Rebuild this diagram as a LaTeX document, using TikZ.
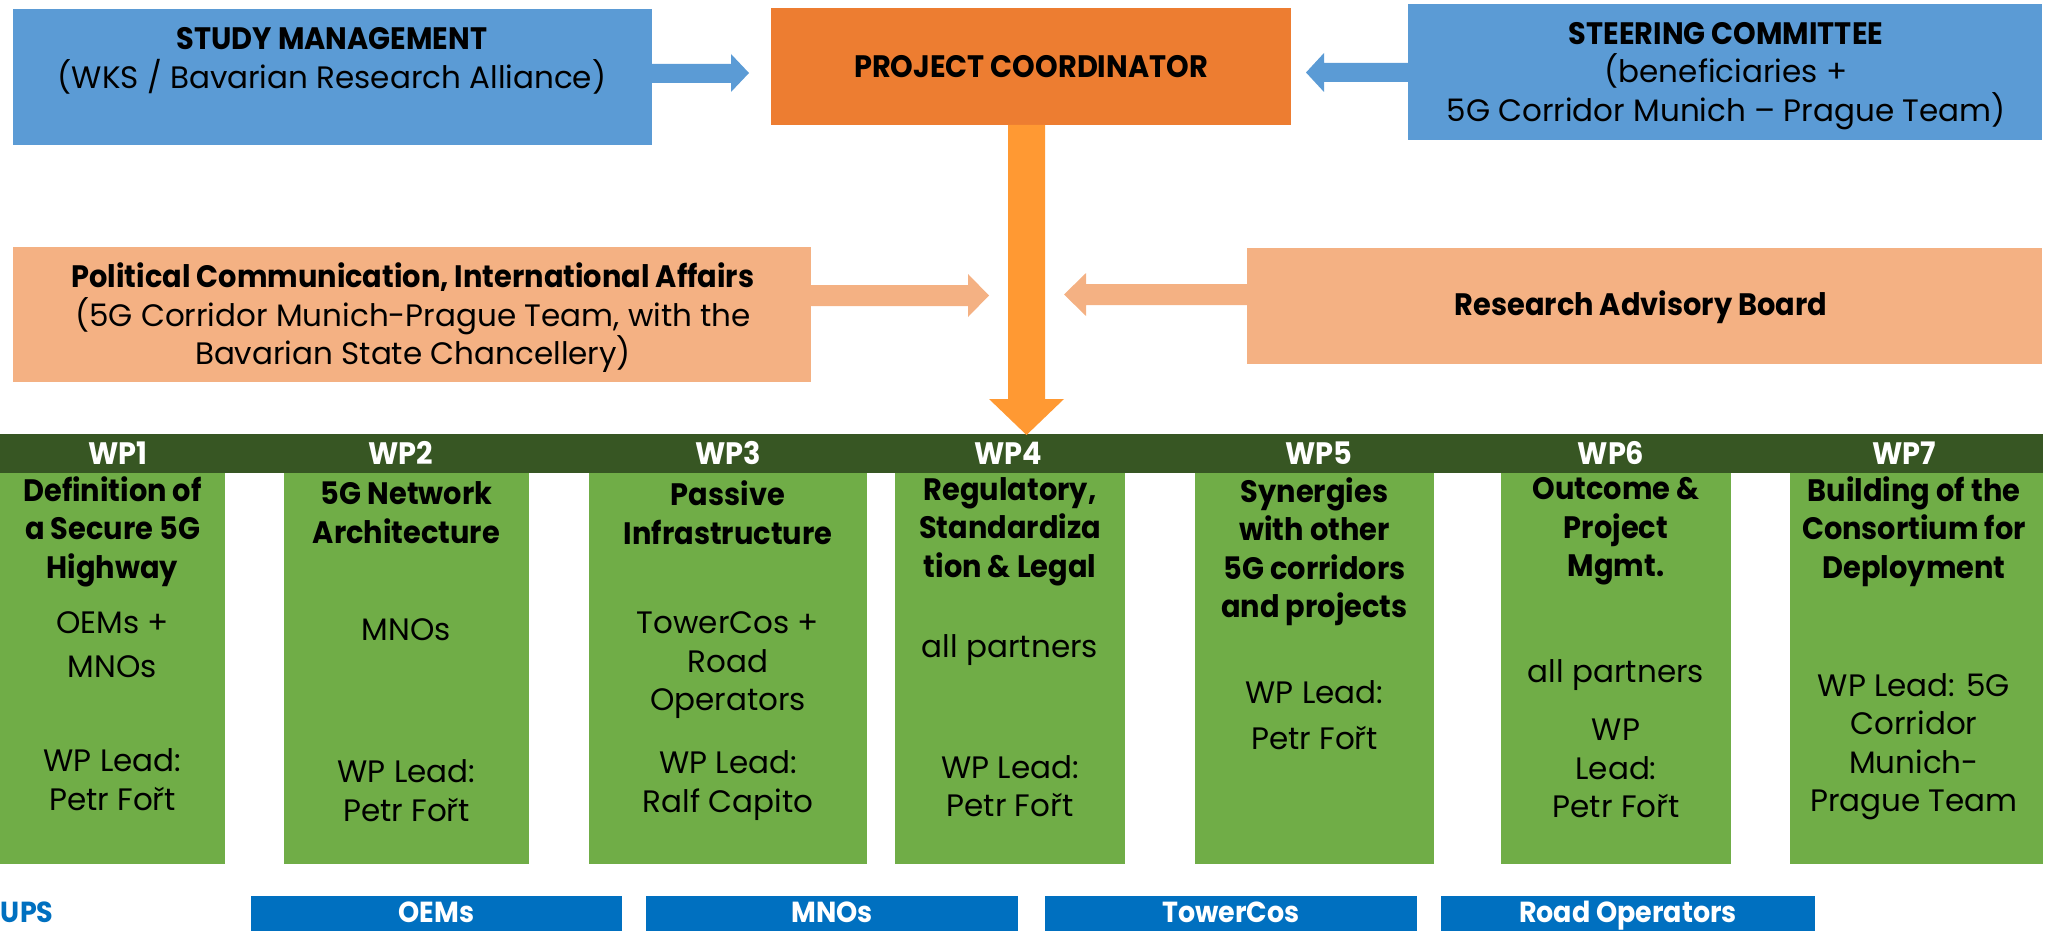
\documentclass[tikz,border=0pt]{standalone}
\usepackage{fontspec}
\setmainfont{Poppins}[BoldFeatures={FakeStretch=0.93}]
\definecolor{smblue}{HTML}{5B9BD5}
\definecolor{pcorange}{HTML}{ED7D31}
\definecolor{arrorange}{HTML}{FF9933}
\definecolor{salmon}{HTML}{F4B183}
\definecolor{darkgreen}{HTML}{375623}
\definecolor{wpgreen}{HTML}{70AD47}
\definecolor{deepblue}{HTML}{0070C0}
\begin{document}
\begin{tikzpicture}[x=1pt,y=-1pt,
  every node/.style={inner sep=0pt,outer sep=0pt},
  box/.style={rectangle,draw=none},
  txt/.style={font=\fontsize{31}{38.5}\selectfont,align=center,text=black},
  ttl/.style={txt,font=\fontsize{31}{38.5}\selectfont\bfseries},
  hdr/.style={font=\fontsize{31}{38.5}\selectfont\bfseries,text=white},
  bt/.style={font=\fontsize{29}{34}\selectfont\bfseries,text=white,anchor=base}]
\useasboundingbox (0,0) rectangle (2052,931);
% top boxes
\node[box,fill=smblue,minimum width=639pt,minimum height=136pt] (sm) at (332.5,77) {};
\node[box,fill=pcorange,minimum width=520pt,minimum height=117pt] (pc) at (1031,66.5) {};
\node[box,fill=smblue,minimum width=634pt,minimum height=136pt] (sc) at (1725,72) {};
\node[box,fill=salmon,minimum width=798pt,minimum height=135pt] (pol) at (412,314.5) {};
\node[box,fill=salmon,minimum width=795pt,minimum height=116pt] (rab) at (1644.5,306) {};
% WP bar and columns
\node[box,fill=darkgreen,minimum width=2043pt,minimum height=39pt] (bar) at (1021.5,453.5) {};
\node[box,fill=wpgreen,minimum width=225pt,minimum height=391pt] (wp1) at (112.5,668.5) {};
\node[box,fill=wpgreen,minimum width=245pt,minimum height=391pt] (wp2) at (406.5,668.5) {};
\node[box,fill=wpgreen,minimum width=278pt,minimum height=391pt] (wp3) at (728,668.5) {};
\node[box,fill=wpgreen,minimum width=230pt,minimum height=391pt] (wp4) at (1010,668.5) {};
\node[box,fill=wpgreen,minimum width=239pt,minimum height=391pt] (wp5) at (1314.5,668.5) {};
\node[box,fill=wpgreen,minimum width=230pt,minimum height=391pt] (wp6) at (1616,668.5) {};
\node[box,fill=wpgreen,minimum width=253pt,minimum height=391pt] (wp7) at (1916.5,668.5) {};
% bottom boxes
\node[box,fill=deepblue,minimum width=371pt,minimum height=35pt] (oem) at (436.5,913.5) {};
\node[box,fill=deepblue,minimum width=372pt,minimum height=35pt] (mno) at (832,913.5) {};
\node[box,fill=deepblue,minimum width=372pt,minimum height=35pt] (tow) at (1231,913.5) {};
\node[box,fill=deepblue,minimum width=374pt,minimum height=35pt] (road) at (1628,913.5) {};
% arrows
\fill[smblue] (sm.east |- 0,64) -- (731,64) -- (731,54) -- (749,73) -- (731,92) -- (731,83) -- (sm.east |- 0,83) -- cycle;
\fill[smblue] (sc.west |- 0,63) -- (1324,63) -- (1324,53) -- (1306,72.5) -- (1324,92) -- (1324,82) -- (sc.west |- 0,82) -- cycle;
\fill[salmon] (pol.east |- 0,285) -- (968,285) -- (968,274) -- (989,295.5) -- (968,317) -- (968,306) -- (pol.east |- 0,306) -- cycle;
\fill[salmon] (rab.west |- 0,284) -- (1086,284) -- (1086,273) -- (1064,294.5) -- (1086,316) -- (1086,305) -- (rab.west |- 0,305) -- cycle;
\fill[arrorange] (1008,0 |- pc.south) -- (1008,399) -- (989,399) -- (1026.5,435) -- (1064,399) -- (1045,399) -- (1045,0 |- pc.south) -- cycle;
% texts top
\node[txt] (smt) at (332,61) {\textbf{STUDY MANAGEMENT}\\(WKS / Bavarian Research Alliance)};
\node[txt] (pct) at (1031,67) {\textbf{PROJECT COORDINATOR}};
\node[txt] (sct) at (1726,76) {\textbf{STEERING COMMITTEE}\\(beneficiaries +\\5G Corridor Munich – Prague Team)};
\node[txt] (polt) at (413,318) {\textbf{Political Communication, International Affairs}\\(5G Corridor Munich-Prague Team, with the\\Bavarian State Chancellery)};
\node[txt] (rabt) at (1641,307) {\textbf{Research Advisory Board}};
% WP headers
\node[hdr] (h1) at (118,453) {WP1};
\node[hdr] (h2) at (401,453) {WP2};
\node[hdr] (h3) at (728,453) {WP3};
\node[hdr] (h4) at (1008,453) {WP4};
\node[hdr] (h5) at (1319,453) {WP5};
\node[hdr] (h6) at (1611,453) {WP6};
\node[hdr] (h7) at (1904,453) {WP7};
% WP column texts
\node[ttl] (t1) at (112.5,531.5) {Definition of\\a Secure 5G\\Highway};
\node[txt] (p1) at (112.5,644.5) {OEMs +\\[6pt]MNOs};
\node[txt] (l1) at (112.5,779.5) {WP Lead:\\Petr Fořt};
\node[ttl] (t2) at (406.5,512.5) {5G Network\\Architecture};
\node[txt] (p2) at (406.5,630) {MNOs};
\node[txt] (l2) at (406.5,790.5) {WP Lead:\\Petr Fořt};
\node[ttl] (t3) at (728,512.5) {Passive\\Infrastructure};
\node[txt] (p3) at (728,665.5) {TowerCos +\\Road\\Operators};
\node[txt] (l3) at (728,785.5) {WP Lead:\\Ralf Capito};
\node[ttl] (t4) at (1010,531.5) {Regulatory,\\Standardiza\\tion \& Legal};
\node[txt] (p4) at (1010,650) {all partners};
\node[txt] (l4) at (1010,786) {WP Lead:\\Petr Fořt};
\node[ttl] (t5) at (1314.5,551.5) {Synergies\\with other\\5G corridors\\and projects};
\node[txt] (l5) at (1314.5,715) {WP Lead:\\[8pt]Petr Fořt};
\node[ttl] (t6) at (1616,531.5) {Outcome \&\\Project\\Mgmt.};
\node[txt] (p6) at (1616,675) {all partners};
\node[txt] (l6) at (1616,768.5) {WP\\Lead:\\Petr Fořt};
\node[ttl] (t7) at (1914,531.5) {Building of the\\Consortium for\\Deployment};
\node[txt] (l7) at (1914,746.5) {WP Lead: 5G\\Corridor\\Munich-\\Prague Team};
% bottom texts
\node[bt] (oemt) at (436.5,922) {OEMs};
\node[bt] (mnot) at (832,922) {MNOs};
\node[bt] (towt) at (1231,922) {TowerCos};
\node[bt] (roadt) at (1628,922) {Road Operators};
\node[bt,text=deepblue,anchor=base west] (grp) at (1,922) {UPS};
\end{tikzpicture}
\end{document}
